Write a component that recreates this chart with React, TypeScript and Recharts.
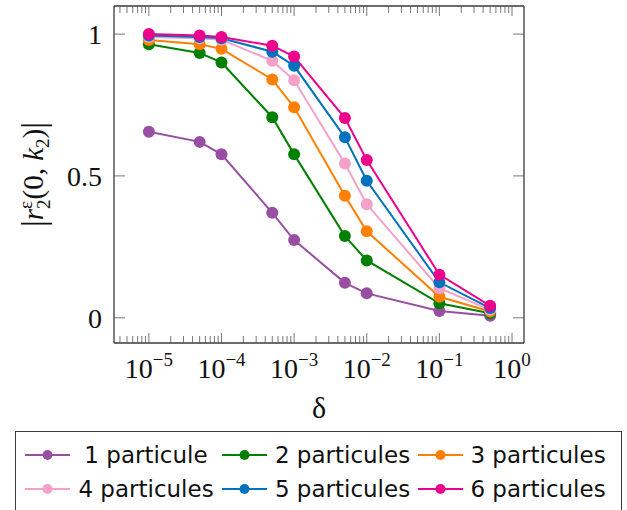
import { Line, LineChart, XAxis, YAxis } from "recharts";

// delta values (log axis) and |r_2^eps(0, k_2)| for each particle count
const DELTAS = [1e-5, 5e-5, 1e-4, 5e-4, 1e-3, 5e-3, 1e-2, 1e-1, 5e-1];
const P1 = [0.656, 0.62, 0.576, 0.37, 0.274, 0.123, 0.086, 0.024, 0.007];
const P2 = [0.964, 0.933, 0.9, 0.707, 0.576, 0.288, 0.202, 0.051, 0.016];
const P3 = [0.979, 0.964, 0.948, 0.84, 0.742, 0.43, 0.305, 0.074, 0.022];
const P4 = [0.99, 0.985, 0.98, 0.906, 0.837, 0.544, 0.4, 0.104, 0.028];
const P5 = [0.995, 0.99, 0.985, 0.938, 0.888, 0.636, 0.483, 0.125, 0.034];
const P6 = [1.0, 0.995, 0.99, 0.959, 0.921, 0.704, 0.556, 0.152, 0.042];

const SERIES = [
  { key: "p1", label: "1 particule", color: "#984ea3", values: P1 },
  { key: "p2", label: "2 particules", color: "#008000", values: P2 },
  { key: "p3", label: "3 particules", color: "#ff7f00", values: P3 },
  { key: "p4", label: "4 particules", color: "#f4a0c8", values: P4 },
  { key: "p5", label: "5 particules", color: "#0072bd", values: P5 },
  { key: "p6", label: "6 particules", color: "#ec008c", values: P6 },
];

const MAJOR_X = [1e-5, 1e-4, 1e-3, 1e-2, 1e-1, 1];
const Y_TICKS = [0, 0.5, 1];
const X_DOMAIN = [Math.pow(10, -5.48), Math.pow(10, 0.165)];
const Y_DOMAIN = [-0.089, 1.099];

const minorX: number[] = [];
for (let e = -6; e <= 0; e++) {
  for (let k = 2; k <= 9; k++) {
    const v = k * Math.pow(10, e);
    if (v > X_DOMAIN[0] && v < X_DOMAIN[1]) minorX.push(v);
  }
}
const X_TICKS = [...MAJOR_X, ...minorX].sort((a, b) => a - b);

const rows = DELTAS.map((d, i) => {
  const r: Record<string, number> = { x: d };
  SERIES.forEach((s) => (r[s.key] = s.values[i]));
  return r;
});

const SERIF = "'Liberation Serif', 'DejaVu Serif', serif";
const TICK = "#555";
const FRAME = "#3a3a3a";

const isMajor = (v: number) =>
  Math.abs(Math.log10(v) - Math.round(Math.log10(v))) < 1e-6;

function BottomTick(props: any) {
  const { x, y, payload } = props;
  const v = payload.value;
  const major = isMajor(v);
  const e = Math.round(Math.log10(v));
  return (
    <g>
      <line x1={x} x2={x} y1={y} y2={y - (major ? 10 : 7)} stroke={TICK} strokeWidth={0.8} />
      {major && (
        <text x={x} y={y + 35} textAnchor="middle" fontFamily={SERIF} fontSize={28} fill="#111">
          10
          <tspan dy={-12} fontSize={19}>
            {e === 0 ? "0" : "\u2212" + -e}
          </tspan>
        </text>
      )}
    </g>
  );
}

function TopTick(props: any) {
  const { x, y, payload } = props;
  const major = isMajor(payload.value);
  return <line x1={x} x2={x} y1={y} y2={y + (major ? 10 : 7)} stroke={TICK} strokeWidth={0.8} />;
}

function LeftTick(props: any) {
  const { x, y, payload } = props;
  return (
    <g>
      <line x1={x} x2={x + 11} y1={y} y2={y} stroke={TICK} strokeWidth={0.8} />
      <text x={x - 12} y={y} dy="0.35em" textAnchor="end" fontFamily={SERIF} fontSize={28} fill="#111">
        {payload.value}
      </text>
    </g>
  );
}

function RightTick(props: any) {
  const { x, y } = props;
  return <line x1={x} x2={x - 11} y1={y} y2={y} stroke={TICK} strokeWidth={0.8} />;
}

function YLabel(props: any) {
  const vb = props.viewBox;
  const cx = 43;
  const cy = vb.y + vb.height / 2;
  return (
    <g transform={`rotate(-90, ${cx}, ${cy})`}>
      <text x={cx} y={cy} textAnchor="middle" fontFamily={SERIF} fontSize={29} fill="#111">
        <tspan fontSize={34} dy={2}>|</tspan>
        <tspan fontStyle="italic" dy={-2}>r</tspan>
        <tspan dy={-11} fontSize={19}>ε</tspan>
        <tspan dx={-8} dy={18} fontSize={19}>2</tspan>
        <tspan dy={-7}>(0, </tspan>
        <tspan fontStyle="italic">k</tspan>
        <tspan dy={6} fontSize={19}>2</tspan>
        <tspan dy={-6}>)</tspan>
        <tspan fontSize={34} dy={2}>|</tspan>
      </text>
    </g>
  );
}

function XLabel() {
  return (
    <text x={319} y={418} textAnchor="middle" fontFamily={SERIF} fontSize={30} fill="#111">
      δ
    </text>
  );
}

function LegendBox() {
  return (
    <div
      style={{
        position: "absolute",
        left: 15,
        top: 431,
        width: 607,
        height: 90,
        boxSizing: "border-box",
        border: `1.3px solid ${FRAME}`,
        paddingTop: 6,
        paddingLeft: 9,
        display: "grid",
        gridTemplateColumns: "45px 152px 45px 151px 45px 150px",
        gridAutoRows: "34px",
        fontFamily: "'DejaVu Sans', sans-serif",
        fontSize: 23,
        color: "#111",
      }}
    >
      {SERIES.map((s) => [
        <svg key={s.key + "m"} width={45} height={34} style={{ display: "block" }}>
          <line x1={0} x2={45} y1={17} y2={17} stroke={s.color} strokeWidth={2} />
          <circle cx={22.5} cy={17} r={5} fill={s.color} />
        </svg>,
        <div
          key={s.key + "t"}
          style={{ textAlign: "center", lineHeight: "34px", whiteSpace: "nowrap" }}
        >
          {s.label}
        </div>,
      ])}
    </div>
  );
}

export default function App() {
  return (
    <div style={{ position: "absolute", left: 0, top: 0, width: 627, height: 510, background: "#fff" }}>
      <LineChart
        width={627}
        height={430}
        data={rows}
        margin={{ top: 5, right: 102, bottom: 47, left: 54 }}
      >
        <XAxis
          xAxisId="b"
          dataKey="x"
          type="number"
          scale="log"
          domain={X_DOMAIN}
          allowDataOverflow
          ticks={X_TICKS}
          interval={0}
          height={40}
          tickSize={0}
          tickMargin={0}
          tickLine={false}
          axisLine={{ stroke: FRAME, strokeWidth: 1.3 }}
          tick={<BottomTick />}
          label={<XLabel />}
        />
        <XAxis
          xAxisId="t"
          orientation="top"
          dataKey="x"
          type="number"
          scale="log"
          domain={X_DOMAIN}
          allowDataOverflow
          ticks={X_TICKS}
          interval={0}
          height={1}
          tickSize={0}
          tickMargin={0}
          tickLine={false}
          axisLine={{ stroke: FRAME, strokeWidth: 1.3 }}
          tick={<TopTick />}
        />
        <YAxis
          yAxisId="l"
          type="number"
          domain={Y_DOMAIN}
          allowDataOverflow
          ticks={Y_TICKS}
          interval={0}
          width={60}
          tickSize={0}
          tickMargin={0}
          tickLine={false}
          axisLine={{ stroke: FRAME, strokeWidth: 1.3 }}
          tick={<LeftTick />}
          label={<YLabel />}
        />
        <YAxis
          yAxisId="r"
          orientation="right"
          type="number"
          domain={Y_DOMAIN}
          allowDataOverflow
          ticks={Y_TICKS}
          interval={0}
          width={1}
          tickSize={0}
          tickMargin={0}
          tickLine={false}
          axisLine={{ stroke: FRAME, strokeWidth: 1.3 }}
          tick={<RightTick />}
        />
        {SERIES.map((s) => (
          <Line
            key={s.key}
            xAxisId="b"
            yAxisId="l"
            type="linear"
            dataKey={s.key}
            stroke={s.color}
            strokeWidth={2}
            dot={{ r: 6, fill: s.color, stroke: s.color, strokeWidth: 0 }}
            activeDot={false}
            isAnimationActive={false}
          />
        ))}
      </LineChart>
      <LegendBox />
    </div>
  );
}
